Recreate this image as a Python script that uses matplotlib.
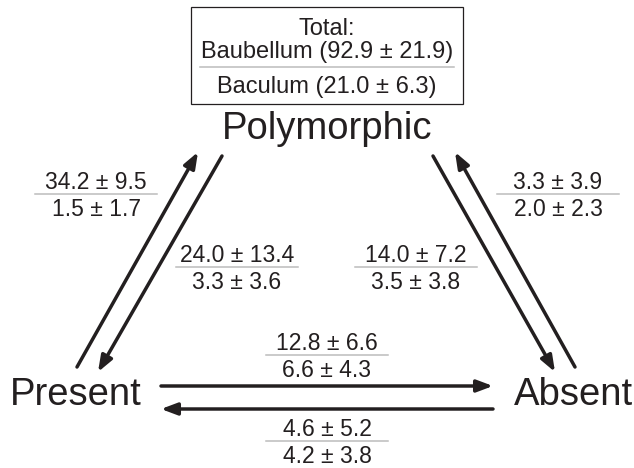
import matplotlib
matplotlib.use("Agg")
import matplotlib.pyplot as plt
from matplotlib.patches import Rectangle

plt.rcParams['font.family'] = ['Liberation Sans', 'DejaVu Sans']

# character states (nodes of the diagram)
states = ["Polymorphic", "Present", "Absent"]

# transitions: baubellum rate (mean, sd) over baculum rate (mean, sd)
trans_from = ["Present", "Polymorphic", "Polymorphic", "Absent", "Present", "Absent"]
trans_to = ["Polymorphic", "Present", "Absent", "Polymorphic", "Absent", "Present"]
baub_mean = [34.2, 24.0, 14.0, 3.3, 12.8, 4.6]
baub_sd = [9.5, 13.4, 7.2, 3.9, 6.6, 5.2]
bac_mean = [1.5, 3.3, 3.5, 2.0, 6.6, 4.2]
bac_sd = [1.7, 3.6, 3.8, 2.3, 4.3, 3.8]

# totals shown in the box
total_baub = (92.9, 21.9)
total_bac = (21.0, 6.3)

# ---- layout (pixel coords, y down) ----
W, H = 634, 468
ink = "#231f20"
rule = "#bcbcbc"

node_xy = {"Polymorphic": (327, 139), "Present": (76, 405), "Absent": (573, 405)}

# arrow tail -> tip, one per transition
arrow_pts = {
    ("Present", "Polymorphic"): ((77, 367), (198, 152)),
    ("Polymorphic", "Present"): ((222, 156), (98, 372)),
    ("Polymorphic", "Absent"): ((433, 156), (555, 372)),
    ("Absent", "Polymorphic"): ((575, 367), (455, 152)),
    ("Present", "Absent"): ((161, 386), (493, 386)),
    ("Absent", "Present"): ((493, 409), (161, 409)),
}

# label centre x and y of the fraction rule
label_pos = {
    ("Present", "Polymorphic"): (96, 194),
    ("Polymorphic", "Present"): (237, 267),
    ("Polymorphic", "Absent"): (416, 267),
    ("Absent", "Polymorphic"): (558, 194),
    ("Present", "Absent"): (327, 355),
    ("Absent", "Present"): (327, 441),
}

fig = plt.figure(figsize=(W / 100, H / 100), dpi=100)
ax = fig.add_axes([0, 0, 1, 1])
ax.set_xlim(0, W)
ax.set_ylim(H, 0)
ax.axis("off")

# state names
for s in states:
    x, y = node_xy[s]
    ax.text(x, y, s, ha="center", va="baseline", fontsize=27.5, color=ink)

# arrows
for f, t in zip(trans_from, trans_to):
    (x0, y0), (x1, y1) = arrow_pts[(f, t)]
    ax.annotate("", xy=(x1, y1), xytext=(x0, y0),
                arrowprops=dict(arrowstyle="-|>,head_length=0.8,head_width=0.3",
                                mutation_scale=12, lw=2.5, color=ink,
                                shrinkA=0, shrinkB=0))

# rate labels as fractions
half = 61
for f, t, bm, bs, cm, cs in zip(trans_from, trans_to, baub_mean, baub_sd, bac_mean, bac_sd):
    x, y = label_pos[(f, t)]
    ax.plot([x - half, x + half], [y, y], color=rule, lw=1.1)
    ax.text(x, y - 5, f"{bm:.1f} \u00b1 {bs:.1f}", ha="center", va="baseline",
            fontsize=16.5, color=ink)
    ax.text(x, y + 22, f"{cm:.1f} \u00b1 {cs:.1f}", ha="center", va="baseline",
            fontsize=16.5, color=ink)

# totals box
ax.add_patch(Rectangle((191, 7), 272, 97, fill=False, ec=ink, lw=0.9))
ax.text(327, 35, "Total:", ha="center", va="baseline", fontsize=17, color=ink)
ax.text(327, 58, f"Baubellum ({total_baub[0]:.1f} \u00b1 {total_baub[1]:.1f})",
        ha="center", va="baseline", fontsize=17, color=ink)
ax.plot([200, 454], [67, 67], color=rule, lw=1.1)
ax.text(327, 93, f"Baculum ({total_bac[0]:.1f} \u00b1 {total_bac[1]:.1f})",
        ha="center", va="baseline", fontsize=17, color=ink)

fig.savefig("out.png", dpi=100)
